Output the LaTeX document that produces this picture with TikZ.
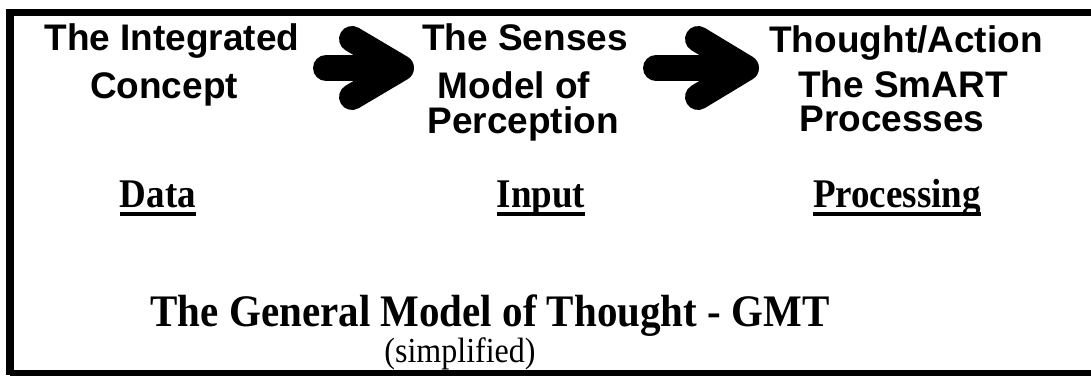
\documentclass[tikz,border=0pt]{standalone}
\usepackage{fontspec}
\usepackage{graphicx}
\setmainfont{Liberation Serif}
\newfontfamily\hdsans{Liberation Sans}
\newcommand{\tallish}[1]{\scalebox{1}[1.1]{#1}}
\tikzset{
  head/.style={font=\hdsans\bfseries\fontsize{37}{37}\selectfont, inner sep=0pt, anchor=base},
  sub/.style={font=\bfseries\fontsize{37}{37}\selectfont, inner sep=0pt, anchor=base},
  uline/.style={line width=3.5pt},
  bigarrow/.style={line width=26pt, line cap=round, line join=round},
  frame/.style={line width=7.5pt}
}
\begin{document}
\begin{tikzpicture}[x=1pt,y=-1pt]
\useasboundingbox (0,0) rectangle (1091,375);
% frame
\draw[frame] (10,12.5) -- (1095,12.5);
\draw[frame] (10,9) -- (10,375);
\draw[frame] (10,373.5) -- (1095,373.5);
% column 1
\node[head] (c1a) at (172,50) {The Integrated};
\node[head] (c1b) at (164,98) {Concept};
% column 2
\node[head] (c2a) at (525,50) {The Senses};
\node[head] (c2b) at (514,98) {Model of};
\node[head] (c2c) at (523,133) {Perception};
% column 3
\node[head] (c3a) at (906,52) {Thought/Action};
\node[head] (c3b) at (903,97) {The SmART};
\node[head] (c3c) at (892,131) {Processes};
% arrows
\coordinate (a1s) at (326,68);
\coordinate (a1e) at (396,68);
\coordinate (a1t) at (401,68);
\coordinate (a1u) at (352,39);
\coordinate (a1d) at (352,97);
\draw[bigarrow] (a1s) -- (a1e);
\draw[bigarrow] (a1u) -- (a1t) -- (a1d);
\coordinate (a2s) at (656,68);
\coordinate (a2e) at (740,68);
\coordinate (a2t) at (746,68);
\coordinate (a2u) at (698,39);
\coordinate (a2d) at (698,97);
\draw[bigarrow] (a2s) -- (a2e);
\draw[bigarrow] (a2u) -- (a2t) -- (a2d);
% row labels
\node[sub] (data) at (158,207) {\tallish{Data}};
\node[sub] (input) at (541,207) {\tallish{Input}};
\node[sub] (proc) at (897,207) {\tallish{Processing}};
\draw[uline] ([yshift=-7pt]data.base west) -- ([yshift=-7pt]data.base east);
\draw[uline] ([yshift=-7pt]input.base west) -- ([yshift=-7pt]input.base east);
\draw[uline] ([yshift=-7pt]proc.base west) -- ([yshift=-7pt]proc.base east);
% title
\node[font=\bfseries\fontsize{41}{41}\selectfont, inner sep=0pt, anchor=base] (title) at (490,326) {\tallish{The General Model of Thought - GMT}};
\node[font=\fontsize{32}{32}\selectfont, inner sep=0pt, anchor=base] (simp) at (460,362) {\tallish{(simplified)}};
\end{tikzpicture}
\end{document}
